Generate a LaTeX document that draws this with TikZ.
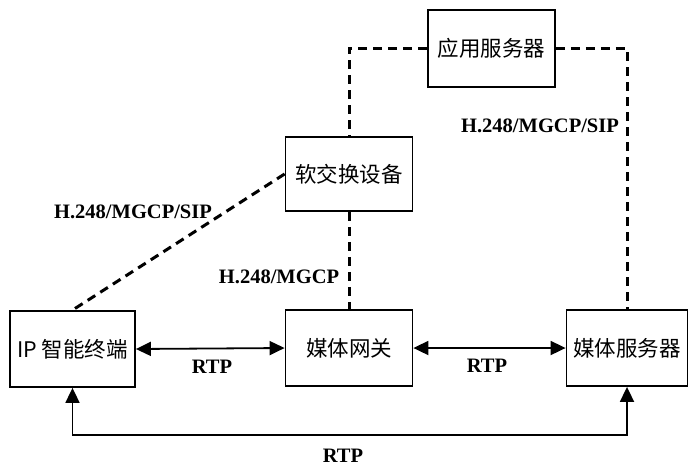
\documentclass[tikz,border=0pt]{standalone}
\usepackage{fontspec}
\setmainfont{Liberation Serif}
\newfontfamily\cjk{Noto Sans CJK SC}
\usetikzlibrary{arrows.meta}
\begin{document}
\begin{tikzpicture}[x=1pt,y=-1pt,
  box/.style={draw, line width=1.8pt, inner sep=0pt, font=\cjk\fontsize{21.5}{24}\selectfont},
  ctl/.style={line width=3pt, dash pattern=on 9pt off 6pt},
  tip/.style={Triangle[length=15pt,width=14pt]},
  rtp/.style={line width=1.8pt, {Triangle[length=15pt,width=14pt]}-{Triangle[length=15pt,width=14pt]}},
  lbl/.style={font=\bfseries\fontsize{20.5}{24}\selectfont, inner sep=0pt}]
\useasboundingbox (0,0) rectangle (688,467);
\node[box, minimum width=127pt, minimum height=77pt] (app) at (491.5,48.5) {应用服务器};
\node[box, minimum width=127pt, minimum height=74pt] (soft) at (349,174) {软交换设备};
\node[box, minimum width=125pt, minimum height=76pt] (ip) at (72.5,349) {IP 智能终端};
\node[box, minimum width=127pt, minimum height=76pt] (gw) at (349,348) {媒体网关};
\node[box, minimum width=121pt, minimum height=76pt] (ms) at (627,348) {媒体服务器};
\draw[ctl] (app.west) -| (soft.north);
\draw[ctl] (app.east) -| (ms.north);
\draw[ctl] (soft.south) -- (gw.north);
\draw[ctl] (soft.west) -- (ip.north);
\draw[rtp] (ip.east) -- (gw.west);
\draw[rtp] (gw.east) -- (ms.west);
\coordinate (bl) at (72.5,435);
\draw[rtp] (ip.south) -- (bl) -| (ms.south);
\node[lbl] (l1) at (540,126) {H.248/MGCP/SIP};
\node[lbl] (l2) at (133,212) {H.248/MGCP/SIP};
\node[lbl] (l3) at (279,277) {H.248/MGCP};
\node[lbl] (r1) at (212,367) {RTP};
\node[lbl] (r2) at (487,366) {RTP};
\node[lbl] (r3) at (343,456) {RTP};
\end{tikzpicture}
\end{document}
